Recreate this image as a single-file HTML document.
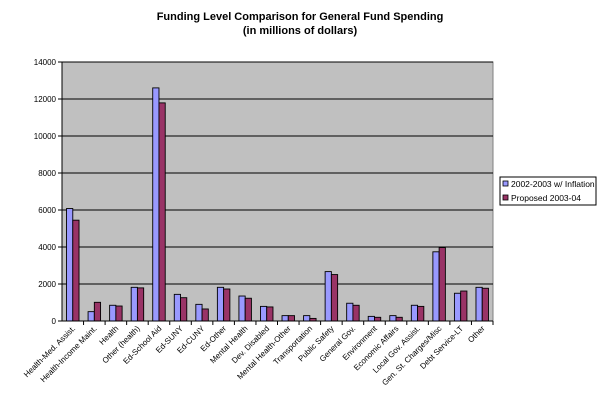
<!DOCTYPE html>
<html><head><meta charset="utf-8"><style>
body{margin:0;background:#fff;font-family:"Liberation Sans",Arial,sans-serif}
svg text{font-family:"Liberation Sans",Arial,sans-serif}
</style></head><body>
<svg id="chart" width="600" height="401" xmlns="http://www.w3.org/2000/svg">
<rect width="600" height="401" fill="#fff"/>
<text x="300" y="20" text-anchor="middle" font-size="11" font-weight="bold">Funding Level Comparison for General Fund Spending</text>
<text x="300" y="34" text-anchor="middle" font-size="11" font-weight="bold">(in millions of dollars)</text>
<rect x="62" y="62" width="431" height="259" fill="#c0c0c0" stroke="#808080"/>
<g id="grid"></g><g id="bars"></g><g id="axes"></g>
<g>
<rect x="500" y="177" width="96" height="28" fill="#fff" stroke="#000"/>
<rect x="503" y="181" width="5" height="5" fill="#9999ff" stroke="#000" stroke-width="0.8"/>
<text x="511" y="187" font-size="8.5">2002-2003 w/ Inflation</text>
<rect x="503" y="195" width="5" height="5" fill="#993366" stroke="#000" stroke-width="0.8"/>
<text x="511" y="201" font-size="8.5">Proposed 2003-04</text>
</g>
</svg>
<script>
const categories=["Health-Med. Assist.","Health-Income Maint.","Health","Other (health)","Ed-School Aid","Ed-SUNY","Ed-CUNY","Ed-Other","Mental Health","Dev. Disabled","Mental Health-Other","Transportation","Public Safety","General Gov.","Environment","Economic Affairs","Local Gov. Assist.","Gen. St. Charges/Misc","Debt Service-LT","Other"];
const series2002=[6080,505,850,1820,12600,1440,900,1820,1350,790,290,290,2670,960,250,290,850,3740,1500,1820];
const series2004=[5450,1010,810,1790,11790,1260,650,1730,1230,760,290,140,2510,850,200,200,790,3970,1620,1770];
const yTicks=[0,2000,4000,6000,8000,10000,12000,14000];
const NS="http://www.w3.org/2000/svg";
const X0=62,X1=493,Y0=321,Y1=62,YMAX=14000;
const y=v=>Y0-(v/YMAX)*(Y0-Y1);
const band=(X1-X0)/categories.length;
const x=i=>X0+i*band;
function mk(tag,attrs,parent){const e=document.createElementNS(NS,tag);for(const k in attrs)e.setAttribute(k,attrs[k]);parent.appendChild(e);return e;}
const grid=document.getElementById('grid'),bars=document.getElementById('bars'),axes=document.getElementById('axes');
yTicks.forEach(t=>{
  if(t>0){const l=mk('line',{x1:X0,x2:X1,y1:y(t),y2:y(t),stroke:'#000','stroke-width':1},grid);
  
  }
  const tk=mk('line',{x1:X0-4,x2:X0,y1:y(t),y2:y(t),stroke:'#000'},axes);
  const tx=mk('text',{x:X0-6,y:y(t)+3,'text-anchor':'end','font-size':8},axes);
  tx.textContent=t;
  
  
});
const bw=band*0.29;
categories.forEach((c,i)=>{
  const cx=x(i)+band/2;
  const b1=mk('rect',{x:cx-bw,y:y(series2002[i]),width:bw,height:Y0-y(series2002[i]),fill:'#9999ff',stroke:'#000','stroke-width':0.9},bars);
  
  
  const b2=mk('rect',{x:cx,y:y(series2004[i]),width:bw,height:Y0-y(series2004[i]),fill:'#993366',stroke:'#000','stroke-width':0.9},bars);
  
  
  mk('line',{x1:x(i+1),x2:x(i+1),y1:Y0,y2:Y0+4,stroke:'#000'},axes);
  const t=mk('text',{x:0,y:0,'text-anchor':'end','font-size':8,transform:`translate(${cx+3},${Y0+8}) rotate(-45)`},axes);
  t.textContent=c;
  
  
});
mk('line',{x1:X0,x2:X0,y1:Y1,y2:Y0,stroke:'#000'},axes);
mk('line',{x1:X0,x2:X1,y1:Y0,y2:Y0,stroke:'#000'},axes);
</script>
</body></html>
